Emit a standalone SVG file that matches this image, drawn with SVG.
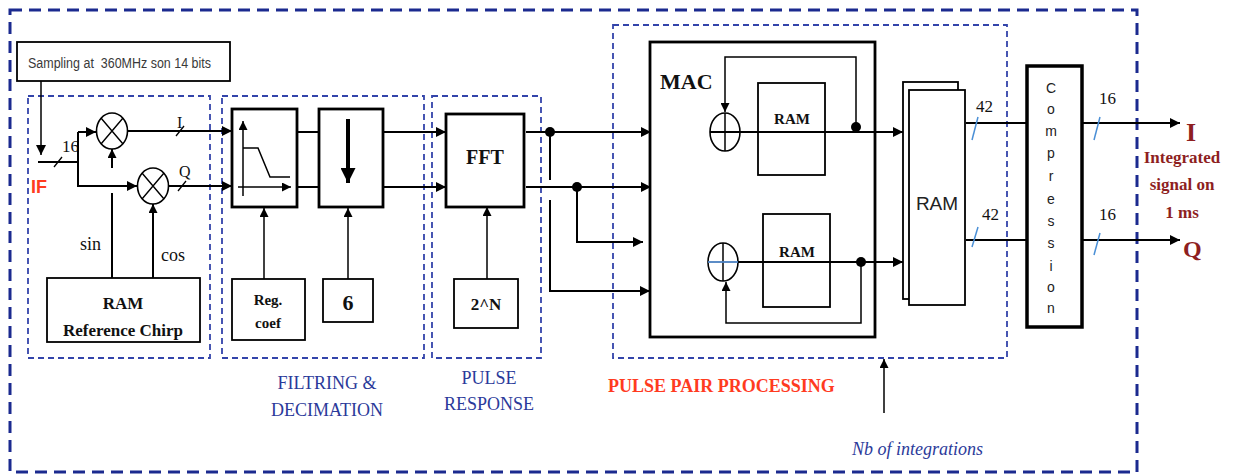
<svg xmlns="http://www.w3.org/2000/svg" width="1233" height="476" viewBox="0 0 1233 476">
<defs>
<marker id="ah" viewBox="0 0 10 10" refX="10" refY="5" markerWidth="12" markerHeight="10" markerUnits="userSpaceOnUse" orient="auto"><path d="M0,0 L10,5 L0,10 z" fill="#000"/></marker>
<marker id="ahs" viewBox="0 0 10 10" refX="10" refY="5" markerWidth="10" markerHeight="9" markerUnits="userSpaceOnUse" orient="auto"><path d="M0,0 L10,5 L0,10 z" fill="#000"/></marker>
<marker id="ahb" viewBox="0 0 10 10" refX="10" refY="5" markerWidth="20" markerHeight="15" markerUnits="userSpaceOnUse" orient="auto"><path d="M0,0 L10,5 L0,10 z" fill="#000"/></marker>
</defs>
<style>
.outer{fill:none;stroke:#1b2a8f;stroke-width:3;stroke-dasharray:12 7}
.grp{fill:none;stroke:#3344aa;stroke-width:1.8;stroke-dasharray:6 4}
.box{fill:#fff;stroke:#000;stroke-width:1.8}
.box0{fill:none;stroke:#000;stroke-width:1.8}
.tbox{fill:#fff;stroke:#000;stroke-width:2.8}
.tbox0{fill:none;stroke:#000;stroke-width:2.8}
.ln{fill:none;stroke:#000;stroke-width:2}
.thin{fill:none;stroke:#000;stroke-width:1.5}
.sl{fill:none;stroke:#000;stroke-width:1.3}
.bsl{fill:none;stroke:#4a8fd6;stroke-width:1.5}
.ser{font-family:"Liberation Serif","Times New Roman",serif;fill:#111}
.b{font-weight:bold}
.sans{font-family:"Liberation Sans",Arial,sans-serif;fill:#222}
.blue{font-family:"Liberation Serif","Times New Roman",serif;fill:#2b3a9a;font-size:18px}
.red{fill:#8e1f1f;font-family:"Liberation Serif","Times New Roman",serif;font-weight:bold}
</style>
<rect width="1233" height="476" fill="#fff"/>
<g id="frames">
<rect class="outer" x="10" y="10" width="1127" height="462"/>
<rect class="grp" x="28" y="96" width="182" height="262"/>
<rect class="grp" x="222" y="96" width="202" height="262"/>
<rect class="grp" x="432" y="96" width="109" height="262"/>
<rect class="grp" x="613" y="25" width="394" height="333"/>
</g>
<g id="sampling">
<rect class="box" x="17" y="42" width="213" height="39" stroke-width="1.5"/>
<text class="sans" x="28" y="68" font-size="14" textLength="183" lengthAdjust="spacingAndGlyphs" xml:space="preserve" style="fill:#3a3a3a">Sampling at  360MHz son 14 bits</text>
</g>
<g id="mixer-labels">
<text class="ser" x="62" y="152" font-size="17">16</text>
<text class="ser" x="177" y="128" font-size="16">I</text>
<text class="ser" x="179" y="177" font-size="16">Q</text>
<text class="sans b" x="31" y="193" font-size="18" style="fill:#ff3b1f">IF</text>
<text class="ser" x="80" y="250" font-size="18">sin</text>
<text class="ser" x="161" y="261" font-size="18">cos</text>
</g>
<g id="mixer1">
<ellipse cx="112" cy="131" rx="15.5" ry="18" fill="#fff" stroke="#000" stroke-width="1.6"/>
<path d="M101,118 L123,144 M123,118 L101,144" stroke="#000" stroke-width="1.4"/>
</g>
<g id="mixer2">
<ellipse cx="153" cy="186" rx="15.5" ry="18" fill="#fff" stroke="#000" stroke-width="1.6"/>
<path d="M142,173 L164,199 M164,173 L142,199" stroke="#000" stroke-width="1.4"/>
</g>
<g id="ram-chirp">
<rect class="box" x="47" y="278" width="153" height="64"/>
<text class="ser b" x="123" y="309" font-size="17" text-anchor="middle">RAM</text>
<text class="ser b" x="123" y="336" font-size="17" text-anchor="middle">Reference Chirp</text>
</g>
<g id="filter">
<rect class="tbox" x="232" y="109" width="65" height="98"/>
<line class="thin" x1="243" y1="196" x2="243" y2="121" marker-end="url(#ahs)"/>
<line class="thin" x1="238" y1="187" x2="291" y2="187" marker-end="url(#ahs)"/>
<polyline class="thin" points="243,148 258,148 270,177 290,177"/>
</g>
<g id="decimation">
<rect class="tbox" x="319" y="109" width="64" height="98"/>
<line x1="348" y1="119" x2="348" y2="183" stroke="#000" stroke-width="4" marker-end="url(#ahb)"/>
</g>
<g id="reg-coef">
<rect class="box" x="232" y="279" width="73" height="61"/>
<text class="ser b" x="268" y="305" font-size="15" text-anchor="middle">Reg.</text>
<text class="ser b" x="268" y="328" font-size="15" text-anchor="middle">coef</text>
</g>
<g id="six">
<rect class="box" x="323" y="279" width="50" height="43"/>
<text class="ser b" x="348" y="310" font-size="22" text-anchor="middle">6</text>
</g>
<g id="fft">
<rect class="tbox" x="446" y="114" width="78" height="93"/>
<text class="ser b" x="485" y="164" font-size="20" text-anchor="middle">FFT</text>
</g>
<g id="two-n">
<rect class="box" x="454" y="279" width="64" height="49"/>
<text class="ser b" x="486" y="310" font-size="17" text-anchor="middle">2^N</text>
</g>
<g id="mac">
<rect class="tbox0" x="650" y="42" width="225" height="295"/>
<text class="ser b" x="660" y="89" font-size="22">MAC</text>
<rect class="box0" x="758" y="83" width="67" height="92"/>
<text class="ser b" x="792" y="124" font-size="15" text-anchor="middle">RAM</text>
<ellipse cx="725" cy="132" rx="15" ry="19" fill="none" stroke="#000" stroke-width="1.6"/>
<path d="M725,113 L725,151" stroke="#000" stroke-width="1.5"/>
<rect class="box0" x="763" y="214" width="67" height="93"/>
<text class="ser b" x="797" y="257" font-size="15" text-anchor="middle">RAM</text>
<ellipse cx="723" cy="262" rx="15" ry="19" fill="none" stroke="#000" stroke-width="1.6"/>
<path d="M723,243 L723,281" stroke="#000" stroke-width="1.5"/>
</g>
<g id="ram-big">
<rect class="box" x="903" y="82" width="55" height="217" stroke-width="1.5"/>
<rect class="box" x="909" y="90" width="56" height="215" stroke-width="1.5"/>
<text class="sans" x="937" y="210" font-size="19" text-anchor="middle">RAM</text>
</g>
<g id="compression">
<rect x="1027" y="66" width="55" height="261" fill="#fff" stroke="#000" stroke-width="3.5"/>
<g class="sans" font-size="14" text-anchor="middle">
<text x="1051" y="93">C</text>
<text x="1051" y="114">o</text>
<text x="1051" y="136">m</text>
<text x="1051" y="158">p</text>
<text x="1051" y="181">r</text>
<text x="1051" y="204">e</text>
<text x="1051" y="226">s</text>
<text x="1051" y="248">s</text>
<text x="1051" y="271">i</text>
<text x="1051" y="292">o</text>
<text x="1051" y="313">n</text>
</g>
</g>
<g id="bus-labels">
<text class="ser" x="976" y="112" font-size="17">42</text>
<text class="ser" x="982" y="220" font-size="17">42</text>
<text class="ser" x="1099" y="104" font-size="17">16</text>
<text class="ser" x="1099" y="220" font-size="17">16</text>
</g>
<g id="outputs">
<text class="red" x="1186" y="141" font-size="26">I</text>
<text class="red" x="1182" y="163" font-size="17" text-anchor="middle">Integrated</text>
<text class="red" x="1182" y="190" font-size="17" text-anchor="middle">signal on</text>
<text class="red" x="1182" y="218" font-size="17" text-anchor="middle">1 ms</text>
<text class="red" x="1183" y="257" font-size="24">Q</text>
</g>
<g id="section-labels">
<text class="blue" x="327" y="389" text-anchor="middle">FILTRING &amp;</text>
<text class="blue" x="327" y="416" text-anchor="middle">DECIMATION</text>
<text class="blue" x="489" y="384" text-anchor="middle">PULSE</text>
<text class="blue" x="489" y="410" text-anchor="middle">RESPONSE</text>
<text class="ser b" x="608" y="392" font-size="18" style="fill:#ff3b1f">PULSE PAIR PROCESSING</text>
<text class="blue" x="852" y="455" font-size="19" font-style="italic">Nb of integrations</text>
</g>
<g id="connectors">
<line class="thin" x1="41" y1="81" x2="41" y2="155" marker-end="url(#ah)"/>
<polyline class="ln" points="38,162 78,162"/>
<line class="sl" x1="54" y1="167" x2="62" y2="157"/>
<polyline class="ln" points="78,132 78,186 137,186" marker-end="url(#ah)"/>
<line class="ln" x1="78" y1="132" x2="96" y2="132" marker-end="url(#ah)"/>
<line class="ln" x1="128" y1="131" x2="232" y2="131" marker-end="url(#ah)"/>
<line class="sl" x1="176" y1="136" x2="184" y2="126"/>
<line class="ln" x1="169" y1="186" x2="232" y2="186" marker-end="url(#ah)"/>
<line class="sl" x1="178" y1="191" x2="186" y2="181"/>
<line class="ln" x1="112" y1="278" x2="112" y2="193"/>
<line class="ln" x1="112" y1="168" x2="112" y2="149" marker-end="url(#ahs)"/>
<line class="ln" x1="153" y1="278" x2="153" y2="204" marker-end="url(#ahs)"/>
<line class="ln" x1="297" y1="132" x2="319" y2="132"/>
<line class="ln" x1="297" y1="187" x2="319" y2="187"/>
<line class="ln" x1="383" y1="132" x2="446" y2="132" marker-end="url(#ah)"/>
<line class="ln" x1="383" y1="187" x2="446" y2="187" marker-end="url(#ah)"/>
<line class="thin" x1="264" y1="279" x2="264" y2="208" marker-end="url(#ahs)"/>
<line class="thin" x1="348" y1="279" x2="348" y2="208" marker-end="url(#ahs)"/>
<line class="thin" x1="487" y1="279" x2="487" y2="207" marker-end="url(#ahs)"/>
<line class="ln" x1="526" y1="132" x2="651" y2="132" marker-end="url(#ah)"/>
<line class="ln" x1="526" y1="187" x2="651" y2="187" marker-end="url(#ah)"/>
<circle cx="550" cy="132" r="5" fill="#000"/>
<circle cx="577" cy="187" r="5" fill="#000"/>
<line class="ln" x1="550" y1="132" x2="550" y2="180"/>
<polyline class="ln" points="550,200 550,291 650,291" marker-end="url(#ah)"/>
<polyline class="ln" points="577,187 577,242 643,242" marker-end="url(#ah)"/>
<line class="ln" x1="710" y1="132" x2="903" y2="132" marker-end="url(#ah)"/>
<circle cx="856" cy="127" r="5" fill="#000"/>
<polyline class="thin" points="856,127 856,57 725,57 725,112" marker-end="url(#ahs)"/>
<line class="ln" x1="738" y1="262" x2="903" y2="262" marker-end="url(#ah)"/>
<path d="M708,262 L738,262" stroke="#4a7fc0" stroke-width="1.8"/>
<circle cx="861" cy="262" r="5" fill="#000"/>
<polyline class="thin" points="861,262 861,323 726,323 726,282" marker-end="url(#ahs)"/>
<line class="ln" x1="966" y1="123" x2="1027" y2="123"/>
<line class="bsl" x1="972" y1="140" x2="978" y2="117"/>
<line class="ln" x1="966" y1="240" x2="1027" y2="240"/>
<line class="bsl" x1="972" y1="247" x2="978" y2="227"/>
<line class="ln" x1="1082" y1="123" x2="1180" y2="123" marker-end="url(#ah)"/>
<line class="bsl" x1="1094" y1="140" x2="1100" y2="117"/>
<line class="ln" x1="1082" y1="240" x2="1180" y2="240" marker-end="url(#ah)"/>
<line class="bsl" x1="1094" y1="255" x2="1100" y2="233"/>
<line class="thin" x1="884" y1="413" x2="884" y2="359" marker-end="url(#ahs)"/>
</g>
</svg>
